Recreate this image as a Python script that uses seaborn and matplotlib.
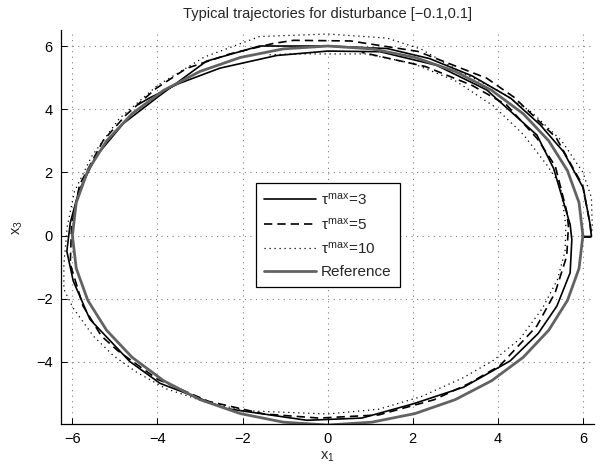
import matplotlib
matplotlib.use('Agg')
import matplotlib.pyplot as plt
import seaborn as sns
import pandas as pd
from matplotlib.lines import Line2D

# trajectories in the (x1, x3) plane
tau3_x1 = [6.00, 6.20, 6.17, 6.01, 5.54, 5.00, 4.30, 3.40, 2.40, 1.40, 0.00, -1.60, -2.85, -3.94,
           -4.80, -5.45, -5.85, -6.05, -6.13, -5.98, -5.59, -4.65, -3.94, -2.38, -0.49, 0.80, 2.01,
           3.20, 4.29, 4.95, 5.39, 5.70, 5.74, 5.70, 5.31, 4.92, 3.74, 2.56, 1.23, 0.00, -1.20,
           -2.53, -3.52, -4.18, -4.45]
tau3_x3 = [-0.03, -0.03, 0.35, 1.50, 2.66, 3.50, 4.35, 5.05, 5.60, 5.92, 6.00, 6.00, 5.52, 4.44,
           3.55, 2.50, 1.40, 0.40, -0.50, -1.44, -2.65, -3.99, -4.68, -5.48, -5.85, -5.78, -5.33,
           -4.80, -3.97, -3.10, -2.23, -1.18, -0.13, 0.35, 2.13, 3.18, 4.61, 5.39, 5.82, 5.84, 5.70,
           5.30, 4.80, 4.36, 4.15]

tau5_x1 = [6.00, 6.20, 6.17, 5.99, 5.37, 4.38, 3.74, 2.12, 0.54, -0.80, -1.28, -2.30, -3.32, -4.03,
           -4.73, -5.28, -5.83, -6.02, -6.05, -5.75, -5.32, -4.93, -4.00, -2.80, -1.50, -0.20, 1.20,
           2.50, 3.30, 4.05, 4.92, 5.35, 5.62, 5.66, 5.62, 5.35, 4.92, 4.21, 3.40, 2.30, 1.40, 0.80]
tau5_x3 = [-0.05, -0.05, 0.35, 1.60, 3.10, 4.38, 4.98, 5.83, 6.16, 6.18, 6.08, 5.75, 5.29, 4.66,
           3.83, 3.00, 1.61, 0.30, -0.90, -2.23, -3.18, -3.65, -4.55, -5.25, -5.65, -5.78, -5.68,
           -5.20, -4.70, -4.12, -2.86, -1.80, -0.65, 0.30, 0.76, 2.20, 3.08, 4.13, 4.75, 5.35, 5.62, 5.80]

tau10_x1 = [6.00, 6.20, 6.22, 6.20, 6.00, 5.50, 4.80, 4.00, 3.10, 2.20, 1.40, 0.00, -1.60, -2.90,
            -4.00, -4.90, -5.55, -5.95, -6.12, -6.20, -6.20, -5.98, -5.51, -5.04, -4.50, -3.80, -2.80,
            -1.90, 0.00, 1.20, 2.20, 3.19, 3.90, 4.52, 5.05, 5.40, 5.58, 5.60, 5.47, 5.15, 4.60, 3.90,
            3.00, 2.00, 0.90, -0.80, -1.40]
tau10_x3 = [-0.05, -0.05, 0.30, 1.20, 2.00, 3.00, 3.90, 4.60, 5.20, 5.90, 6.25, 6.38, 6.30, 5.65,
            4.75, 3.70, 2.50, 1.40, 0.30, -0.90, -1.70, -2.30, -3.18, -3.80, -4.32, -4.85, -5.30,
            -5.55, -5.65, -5.50, -5.10, -4.50, -3.95, -3.27, -2.30, -1.40, -0.50, 0.30, 1.60, 2.24,
            3.20, 4.10, 4.90, 5.45, 5.75, 5.75, 5.72]

# reference circle of radius 6, read every 10 degrees
ref_x1 = [6.000, 5.909, 5.638, 5.196, 4.596, 3.857, 3.000, 2.052, 1.042, 0.000, -1.042, -2.052,
          -3.000, -3.857, -4.596, -5.196, -5.638, -5.909, -6.000, -5.909, -5.638, -5.196, -4.596,
          -3.857, -3.000, -2.052, -1.042, 0.000, 1.042, 2.052, 3.000, 3.857, 4.596, 5.196, 5.638,
          5.909, 6.000]
ref_x3 = [0.000, 1.042, 2.052, 3.000, 3.857, 4.596, 5.196, 5.638, 5.909, 6.000, 5.909, 5.638,
          5.196, 4.596, 3.857, 3.000, 2.052, 1.042, 0.000, -1.042, -2.052, -3.000, -3.857, -4.596,
          -5.196, -5.638, -5.909, -6.000, -5.909, -5.638, -5.196, -4.596, -3.857, -3.000, -2.052,
          -1.042, 0.000]

labels = [r'$\tau^{\mathrm{max}}$=3', r'$\tau^{\mathrm{max}}$=5', r'$\tau^{\mathrm{max}}$=10', 'Reference']
ticks = [-6, -4, -2, 0, 2, 4, 6]
y_ticks = [-4, -2, 0, 2, 4, 6]

sns.set_theme(style='white')
plt.rcParams['font.family'] = ['Liberation Sans', 'DejaVu Sans']
plt.rcParams['mathtext.fontset'] = 'custom'
plt.rcParams['mathtext.rm'] = 'Liberation Sans'
plt.rcParams['mathtext.it'] = 'Liberation Sans'

fig = plt.figure(figsize=(6.09, 4.65), dpi=100)
ax = fig.add_axes([0.100, 0.088, 0.876, 0.847])

styles = [
    (tau3_x1, tau3_x3, dict(color='black', lw=1.2, linestyle='-')),
    (tau5_x1, tau5_x3, dict(color='black', lw=1.2, linestyle=(0, (5, 3)))),
    (tau10_x1, tau10_x3, dict(color='black', lw=0.9, linestyle=(0, (1, 3)))),
    (ref_x1, ref_x3, dict(color='#626262', lw=2.0, linestyle='-')),
]
for xs, ys, st in styles:
    df = pd.DataFrame({'x1': xs, 'x3': ys})
    sns.lineplot(data=df, x='x1', y='x3', sort=False, estimator=None, ax=ax, **st)

ax.set_xlim(-6.27, 6.27)
ax.set_ylim(-5.97, 6.5)
ax.set_xticks(ticks)
ax.set_yticks(y_ticks)
ax.grid(True, color='0.5', linestyle=(0, (1, 4)), linewidth=0.8)
for side in ['top', 'right']:
    ax.spines[side].set_visible(False)
for side in ['left', 'bottom']:
    ax.spines[side].set_color('black')
    ax.spines[side].set_linewidth(0.9)
ax.tick_params(direction='in', length=4, width=0.7, labelsize=10.5, colors='black',
               left=True, bottom=True, pad=6)

ax.set_title('Typical trajectories for disturbance [\u22120.1,0.1]', fontsize=10.5, pad=9)
ax.set_xlabel(r'x$_1$', fontsize=10.5, labelpad=2)
ax.set_ylabel(r'x$_3$', fontsize=10.5, labelpad=8)

handles = [Line2D([0], [0], **st) for _, _, st in styles]
leg = ax.legend(handles, labels, loc='center', bbox_to_anchor=(0.50, 0.479), fontsize=11,
                frameon=True, fancybox=False, handlelength=3.4, labelspacing=0.55,
                borderpad=0.55, handletextpad=0.3, borderaxespad=0)
leg.get_frame().set_edgecolor('black')
leg.get_frame().set_linewidth(0.9)
leg.get_frame().set_alpha(1.0)

fig.savefig('out.png', dpi=100)
